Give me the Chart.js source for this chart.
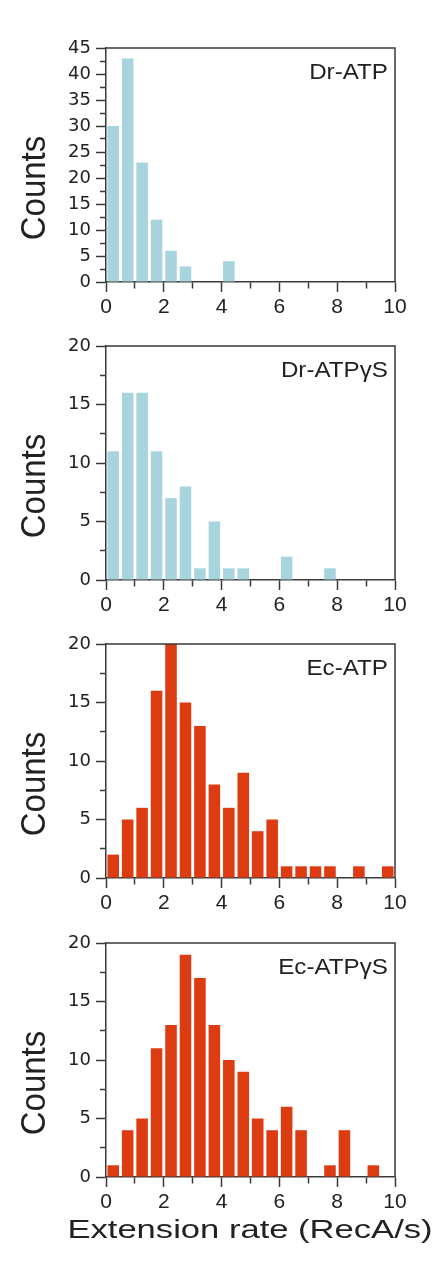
<!DOCTYPE html>
<html>
<head>
<meta charset="utf-8">
<script src="https://cdn.jsdelivr.net/npm/chart.js@4.4.1/dist/chart.umd.min.js"></script>
<style>
  html, body { margin: 0; padding: 0; background: #fff; }
  #wrap { position: relative; width: 436px; height: 1266px; overflow: hidden; }
  canvas { position: absolute; left: 0; }
</style>
</head>
<body>
<div id="wrap">
  <canvas id="c1" width="436" height="298" style="top:18px"></canvas>
  <canvas id="c2" width="436" height="298" style="top:316px"></canvas>
  <canvas id="c3" width="436" height="298" style="top:614px"></canvas>
  <canvas id="c4" width="436" height="353" style="top:913px"></canvas>
</div>
<script>
// bin centres, 0.5 RecA/s wide bins
const binCenters = [0.25, 0.75, 1.25, 1.75, 2.25, 2.75, 3.25, 3.75, 4.25, 4.75,
                    5.25, 5.75, 6.25, 6.75, 7.25, 7.75, 8.25, 8.75, 9.25, 9.75];

const drAtp   = [30, 43, 23, 12, 6, 3, 0, 0, 4, 0, 0, 0, 0, 0, 0, 0, 0, 0, 0, 0];
const drAtpGS = [11, 16, 16, 11, 7, 8, 1, 5, 1, 1, 0, 0, 2, 0, 0, 1, 0, 0, 0, 0];
const ecAtp   = [2, 5, 6, 16, 20, 15, 13, 8, 6, 9, 4, 5, 1, 1, 1, 1, 0, 1, 0, 1];
const ecAtpGS = [1, 4, 5, 11, 13, 19, 17, 13, 10, 9, 5, 4, 6, 4, 0, 1, 4, 0, 1, 0];

const panelLabels = ['Dr-ATP', 'Dr-ATP\u03B3S', 'Ec-ATP', 'Ec-ATP\u03B3S'];
const yMaxes = [45, 20, 20, 20];
const xTitle = 'Extension rate (RecA/s)';
const yTitle = 'Counts';

const BLUE = '#a8d4de';
const RED = '#dd3b12';
const INK = '#3a3a3a';

// frame + text annotations drawn on top of the chart
const panelText = {
  id: 'panelText',
  afterDraw(chart, args, opts) {
    const { ctx, chartArea: a } = chart;
    ctx.save();
    // top and right edges of the box
    ctx.strokeStyle = INK;
    ctx.lineWidth = 1.5;
    ctx.beginPath();
    ctx.moveTo(a.left, a.top);
    ctx.lineTo(a.right, a.top);
    ctx.lineTo(a.right, a.bottom);
    ctx.stroke();

    ctx.fillStyle = '#222';
    // panel name, top right
    ctx.save();
    ctx.font = '22px "Liberation Sans", Arial, sans-serif';
    ctx.textAlign = 'right';
    ctx.textBaseline = 'alphabetic';
    ctx.translate(a.right - 7, a.top + 31);
    ctx.scale(1.1, 1);
    ctx.fillText(opts.label, 0, 0);
    ctx.restore();

    // y title
    ctx.save();
    ctx.font = '33px "Liberation Sans", Arial, sans-serif';
    ctx.textAlign = 'center';
    ctx.textBaseline = 'alphabetic';
    ctx.translate(45, (a.top + a.bottom) / 2 + 23);
    ctx.rotate(-Math.PI / 2);
    ctx.scale(1, 1.08);
    ctx.fillText(yTitle, 0, 0);
    ctx.restore();

    if (opts.xTitle) {
      ctx.save();
      ctx.font = '26px "Liberation Sans", Arial, sans-serif';
      ctx.textAlign = 'center';
      ctx.textBaseline = 'alphabetic';
      ctx.translate(250, a.bottom + 61);
      ctx.scale(1.33, 1);
      ctx.fillText(xTitle, 0, 0);
      ctx.restore();
    }
    ctx.restore();
  }
};

function makePanel(id, values, color, label, yMax, last) {
  const canvas = document.getElementById(id);
  return new Chart(canvas.getContext('2d'), {
    type: 'bar',
    data: {
      datasets: [{
        data: binCenters.map((x, i) => ({ x: x, y: values[i] })),
        backgroundColor: color,
        borderWidth: 0,
        barPercentage: 0.8,
        categoryPercentage: 1,
      }],
    },
    options: {
      responsive: false,
      devicePixelRatio: 1,
      animation: false,
      layout: { padding: { top: 30, left: 0, right: 41, bottom: 0 } },
      plugins: {
        legend: { display: false },
        tooltip: { enabled: false },
        panelText: { label: label, xTitle: last },
      },
      scales: {
        x: {
          type: 'linear',
          min: 0,
          max: 10,
          offset: false,
          afterFit: (s) => { s.height = last ? 89 : 34; },
          border: { color: INK, width: 1.5 },
          grid: {
            drawOnChartArea: false,
            offset: false,
            tickLength: 10,
            tickColor: INK,
            tickWidth: 1.5,
            tickBorderDash: (c) => (c.tick && c.tick.value % 2 !== 0) ? [6, 100] : [],
          },
          ticks: {
            stepSize: 1,
            padding: 3,
            autoSkip: false,
            maxRotation: 0,
            minRotation: 0,
            color: '#222',
            font: { family: '"Liberation Sans", Arial, sans-serif', size: 21 },
            callback: (v) => (v % 2 === 0 ? v : ''),
          },
        },
        y: {
          min: 0,
          max: yMax,
          afterFit: (s) => { s.width = 106; },
          border: { color: INK, width: 1.5 },
          grid: {
            drawOnChartArea: false,
            tickLength: 10,
            tickColor: INK,
            tickWidth: 1.5,
            tickBorderDash: (c) => (c.tick && c.tick.value % 5 !== 0) ? [0, 4, 6, 100] : [],
          },
          ticks: {
            stepSize: 2.5,
            padding: 5,
            autoSkip: false,
            color: '#222',
            font: { family: '"DejaVu Sans", sans-serif', size: 18 },
            callback: (v) => (v % 5 === 0 ? v : ''),
          },
        },
      },
    },
    plugins: [panelText],
  });
}

makePanel('c1', drAtp, BLUE, panelLabels[0], yMaxes[0], false);
makePanel('c2', drAtpGS, BLUE, panelLabels[1], yMaxes[1], false);
makePanel('c3', ecAtp, RED, panelLabels[2], yMaxes[2], false);
makePanel('c4', ecAtpGS, RED, panelLabels[3], yMaxes[3], true);
</script>
</body>
</html>
